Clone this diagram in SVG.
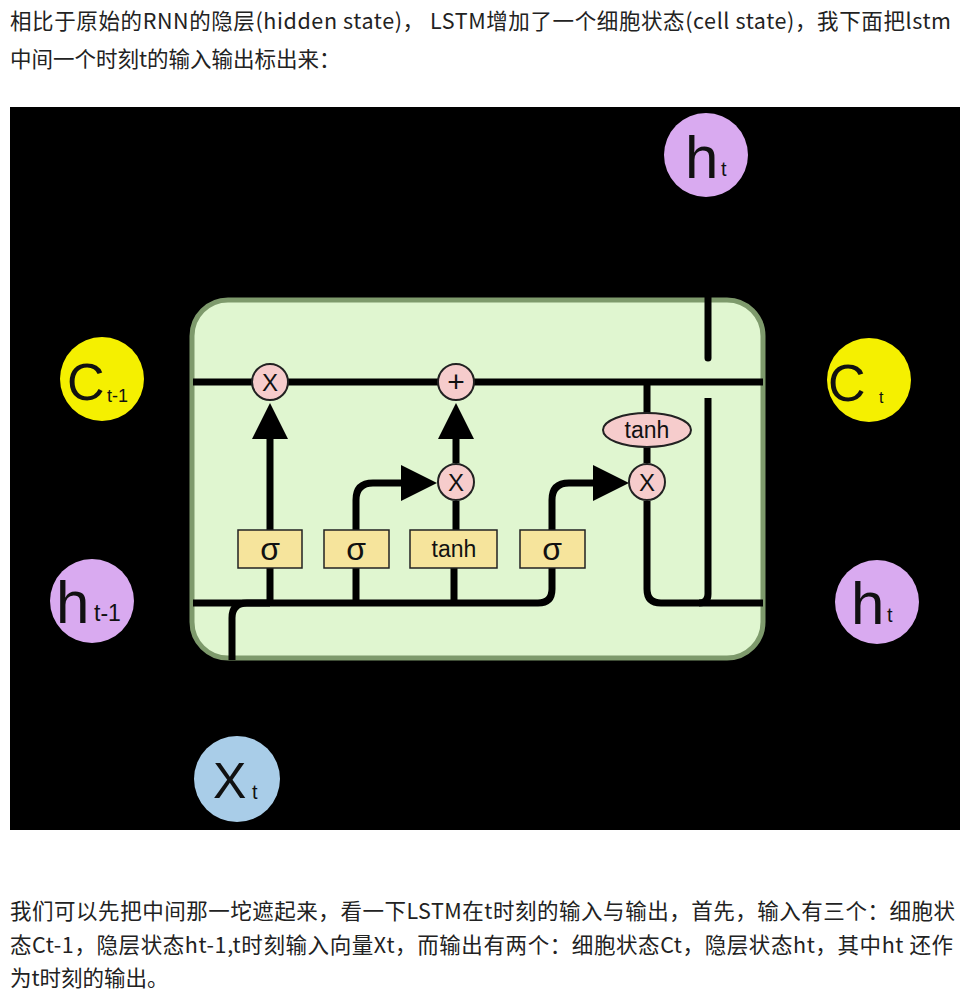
<svg xmlns="http://www.w3.org/2000/svg" width="971" height="1004" viewBox="0 0 971 1004">
<style>
.para{font-family:"Noto Sans CJK SC","Noto Sans",sans-serif;font-size:21.5px;fill:#222}
.lbl{font-family:"Liberation Sans","DejaVu Sans",sans-serif;fill:#111}
.bigh{font-size:60px}
.bigc{font-size:52px}
.sub{font-size:20px}
.op{fill:#f6cccc;stroke:#222;stroke-width:2}
.gate{fill:#f6e49c;stroke:#222;stroke-width:1.5}
.wire{fill:none;stroke:#000;stroke-width:7}
.gtxt{font-family:"Liberation Sans","DejaVu Sans",sans-serif;fill:#111;text-anchor:middle}
</style>
<defs>
<marker id="ah" markerUnits="userSpaceOnUse" markerWidth="36" markerHeight="36" viewBox="0 0 36 36" refX="24" refY="18" orient="auto">
<path d="M0,0 L36,18 L0,36 z" fill="#000"/>
</marker>
</defs>
<rect width="971" height="1004" fill="#fff"/>
<text class="para" x="10" y="29" textLength="941" lengthAdjust="spacing">相比于原始的RNN的隐层(hidden state)， LSTM增加了一个细胞状态(cell state)，我下面把lstm</text>
<text class="para" x="10" y="67">中间一个时刻t的输入输出标出来：</text>
<rect x="10" y="107" width="950" height="723" fill="#000"/>

<g id="cell">
<rect x="192" y="300" width="571" height="358" rx="36" fill="#e0f6d0" stroke="#7e9a6c" stroke-width="5"/>
</g>

<g id="connectors">
<path class="wire" d="M193,382 H763"/>
<path class="wire" d="M708,296 V358" stroke-linecap="round"/>
<path class="wire" d="M193,603 H538 Q552,603 552,589 V568"/>
<path class="wire" d="M232,660 V618 Q232,603 247,603 H270"/>
<path class="wire" d="M270,603 V568"/>
<path class="wire" d="M356,603 V568"/>
<path class="wire" d="M454,603 V568"/>
<path class="wire" d="M270,530 V415" marker-end="url(#ah)"/>
<path class="wire" d="M456,463 V415" marker-end="url(#ah)"/>
<path class="wire" d="M456,501 V530"/>
<path class="wire" d="M356,530 V500 Q356,483 373,483 H425" marker-end="url(#ah)"/>
<path class="wire" d="M552,530 V500 Q552,483 569,483 H617" marker-end="url(#ah)"/>
<path class="wire" d="M647,382 V413"/>
<path class="wire" d="M647,447 V463"/>
<path class="wire" d="M647,501 V589 Q647,603 661,603 H763"/>
<path class="wire" d="M708,398 V594 Q708,603 699,603"/>
</g>

<g id="forget_mul"><circle class="op" cx="270" cy="382" r="18"/><text class="gtxt" x="270" y="391" font-size="24">X</text></g>
<g id="add"><circle class="op" cx="456" cy="382" r="18"/><text class="gtxt" x="456" y="392" font-size="30">+</text></g>
<g id="input_mul"><circle class="op" cx="456" cy="482" r="18"/><text class="gtxt" x="456" y="491" font-size="24">X</text></g>
<g id="output_mul"><circle class="op" cx="647" cy="482" r="18"/><text class="gtxt" x="647" y="491" font-size="24">X</text></g>
<g id="tanh_out"><ellipse class="op" cx="647" cy="430" rx="44" ry="17"/><text class="gtxt" x="647" y="438" font-size="23">tanh</text></g>

<g id="sigma1"><rect class="gate" x="238" y="530" width="64" height="38"/><text class="gtxt" x="270" y="560" font-size="32">σ</text></g>
<g id="sigma2"><rect class="gate" x="324" y="530" width="65" height="38"/><text class="gtxt" x="356" y="560" font-size="32">σ</text></g>
<g id="tanh_gate"><rect class="gate" x="410" y="530" width="87" height="38"/><text class="gtxt" x="454" y="557" font-size="23">tanh</text></g>
<g id="sigma3"><rect class="gate" x="520" y="530" width="65" height="38"/><text class="gtxt" x="552" y="560" font-size="32">σ</text></g>

<g id="h_top"><circle cx="706" cy="155" r="42" fill="#d9aaf0"/><text class="lbl bigh" x="685" y="178">h</text><text class="lbl sub" x="721" y="176">t</text></g>
<g id="c_prev"><circle cx="102" cy="379" r="42" fill="#f5f000"/><text class="lbl bigc" x="67" y="400">C</text><text class="lbl" font-size="18" x="107" y="402">t-1</text></g>
<g id="h_prev"><circle cx="92" cy="601" r="42" fill="#d9aaf0"/><text class="lbl bigh" x="56" y="623">h</text><text class="lbl" font-size="23" x="94" y="621">t-1</text></g>
<g id="c_t"><circle cx="869" cy="380" r="42" fill="#f5f000"/><text class="lbl bigc" x="828" y="401">C</text><text class="lbl" font-size="16" x="879" y="403">t</text></g>
<g id="h_right"><circle cx="877" cy="602" r="42" fill="#d9aaf0"/><text class="lbl bigh" x="851" y="624">h</text><text class="lbl sub" x="887" y="622">t</text></g>
<g id="x_t"><circle cx="237" cy="779" r="43" fill="#a9cde8"/><text class="lbl" font-size="50" x="213" y="798">X</text><text class="lbl sub" x="252" y="799">t</text></g>

<text class="para" x="10" y="919" textLength="945" lengthAdjust="spacing">我们可以先把中间那一坨遮起来，看一下LSTM在t时刻的输入与输出，首先，输入有三个：细胞状</text>
<text class="para" x="10" y="953" textLength="943" lengthAdjust="spacing">态Ct-1，隐层状态ht-1,t时刻输入向量Xt，而输出有两个：细胞状态Ct，隐层状态ht，其中ht 还作</text>
<text class="para" x="10" y="986">为t时刻的输出。</text>
</svg>
